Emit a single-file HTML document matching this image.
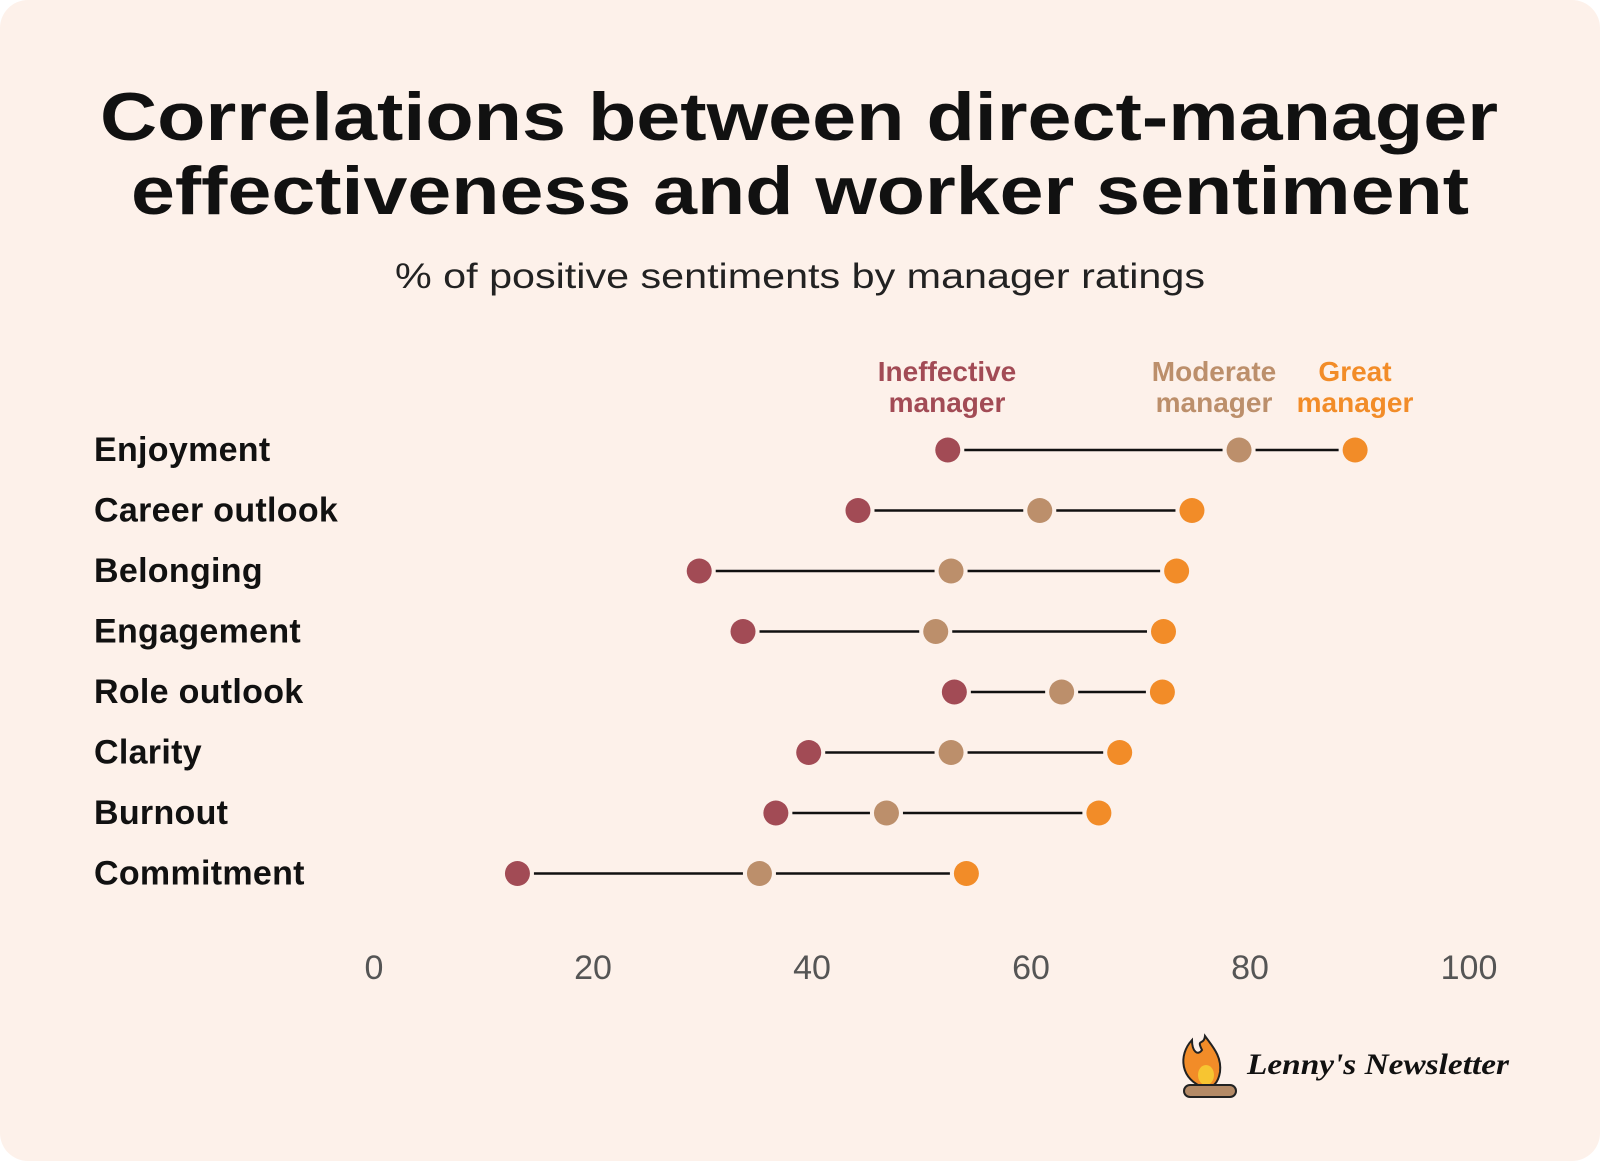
<!DOCTYPE html>
<html><head><meta charset="utf-8"><style>
body{margin:0;background:#fff;}
#wrap{position:relative;width:1600px;height:1161px;background:#fdf1ea;border-radius:28px;overflow:hidden;font-family:"Liberation Sans",sans-serif;}
</style></head><body>
<div id="wrap">
<svg id="chart" width="1600" height="1161"></svg>
</div>
<script>
const categories=["Enjoyment","Career outlook","Belonging","Engagement","Role outlook","Clarity","Burnout","Commitment"];
const ineffective=[52.4,44.2,29.7,33.7,53,39.7,36.7,13.1];
const moderate=[79,60.8,52.7,51.3,62.8,52.7,46.8,35.2];
const great=[89.6,74.7,73.3,72.1,72,68.1,66.2,54.1];
const ticks=[0,20,40,60,80,100];
const NS="http://www.w3.org/2000/svg";
const svg=document.getElementById('chart');
const xs=v=>374+v*10.95;
const ys=i=>450+i*60.5;
const colors={ineffective:"#a24b55",moderate:"#bc8f6b",great:"#f28c28"};
function mk(tag,attrs,text){const e=document.createElementNS(NS,tag);for(const k in attrs)e.setAttribute(k,attrs[k]);if(text!==undefined)e.textContent=text;svg.appendChild(e);return e;}
let t;
t=mk('text',{x:100,y:140,'font-size':68,'font-weight':'bold',fill:'#111',textLength:1398,lengthAdjust:'spacingAndGlyphs'},'Correlations between direct-manager');


t=mk('text',{x:131,y:214,'font-size':68,'font-weight':'bold',fill:'#111',textLength:1338,lengthAdjust:'spacingAndGlyphs'},'effectiveness and worker sentiment');


t=mk('text',{x:395,y:288,'font-size':35,fill:'#222',textLength:810,lengthAdjust:'spacingAndGlyphs'},'% of positive sentiments by manager ratings');


const legends=[["Ineffective","manager",947,colors.ineffective,'legend-ineffective'],["Moderate","manager",1214,colors.moderate,'legend-moderate'],["Great","manager",1355,colors.great,'legend-great']];
legends.forEach(l=>{
 const g=mk('text',{x:l[2],'text-anchor':'middle','font-size':28,'font-weight':'bold',fill:l[3]});
 
 
 const a=document.createElementNS(NS,'tspan');a.setAttribute('x',l[2]);a.setAttribute('y',381);a.textContent=l[0];g.appendChild(a);
 const b=document.createElementNS(NS,'tspan');b.setAttribute('x',l[2]);b.setAttribute('y',412);b.textContent=l[1];g.appendChild(b);
});
const r=12.5,gap=4;
categories.forEach((c,i)=>{
 const y=ys(i);
 const lab=mk('text',{x:94,y:y+11,'font-size':34,'font-weight':'bold','letter-spacing':0.3,fill:'#111'},c);
 
 
 const a=xs(ineffective[i]),b=xs(moderate[i]),g=xs(great[i]);
 const l1=mk('line',{x1:a+r+gap,x2:b-r-gap,y1:y,y2:y,stroke:'#111','stroke-width':2.5});
 
 
 const l2=mk('line',{x1:b+r+gap,x2:g-r-gap,y1:y,y2:y,stroke:'#111','stroke-width':2.5});
 
 
 [[a,colors.ineffective,'dot-ineffective'],[b,colors.moderate,'dot-moderate'],[g,colors.great,'dot-great']].forEach(d=>{
  const ci=mk('circle',{cx:d[0],cy:y,r:r,fill:d[1]});
  
  
 });
});
ticks.forEach(v=>{
 const tk=mk('text',{x:xs(v),y:979,'text-anchor':'middle','font-size':34,fill:'#555'},String(v));
 
 
});
const f1=mk('path',{d:'M1205 1088 C1180 1080 1178 1055 1192 1040 C1192 1052 1198 1056 1202 1050 C1196 1038 1204 1046 1205 1036 C1212 1046 1222 1056 1220 1072 C1218 1084 1212 1088 1205 1088Z',fill:'#f28c28',stroke:'#222','stroke-width':2});


const f2=mk('ellipse',{cx:1206,cy:1075,rx:8,ry:10,fill:'#f7c531'});


const lg=mk('rect',{x:1184,y:1085,width:52,height:12,rx:6,fill:'#b48a66',stroke:'#222','stroke-width':2});


const lt=mk('text',{x:1247,y:1074,'font-size':30,'font-style':'italic','font-weight':'bold','font-family':'Liberation Serif, serif',fill:'#111',textLength:262,lengthAdjust:'spacingAndGlyphs'},"Lenny's Newsletter");


</script>
</body></html>
